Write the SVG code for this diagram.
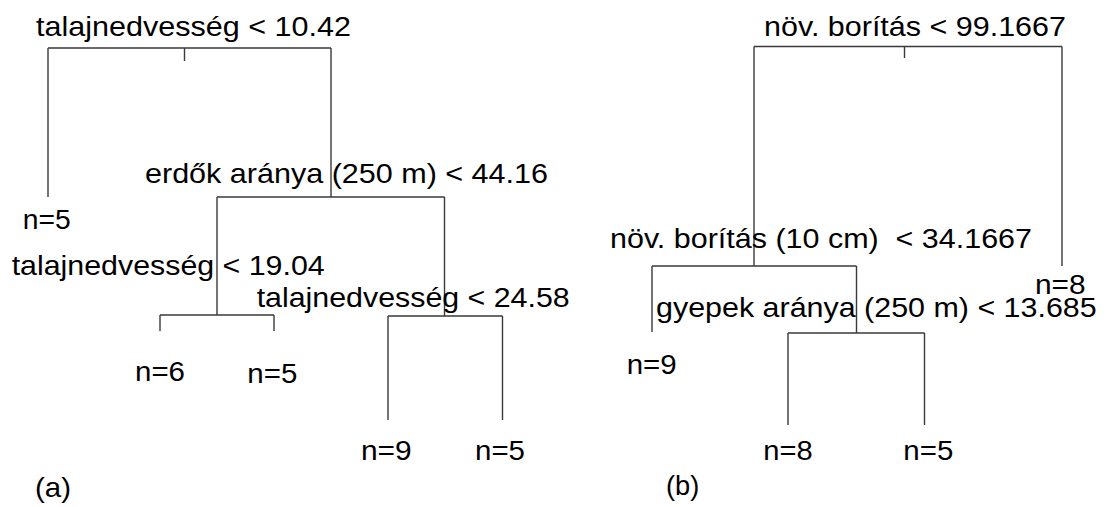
<svg xmlns="http://www.w3.org/2000/svg" width="1107" height="507" viewBox="0 0 1107 507">
<style>
text{font-family:"Liberation Sans",Arial,sans-serif;font-size:27.5px;fill:#000;white-space:pre}
.e{fill:none;stroke:#3a3a3a;stroke-width:1.4}
</style>
<rect width="1107" height="507" fill="#fff"/>
<g id="connectors">
<path class="e" d="M48 48H331M184.5 48V61M48 48V197M331 48V197"/>
<path class="e" d="M217 197H444.5M217 197V315M444.5 197V316"/>
<path class="e" d="M160 315H274M160 315V331M274 315V331"/>
<path class="e" d="M388 316H502.5M388 316V420M502.5 316V420"/>
<path class="e" d="M754 46.5H1062M904.5 46.5V58M754 46.5V266M1062 46.5V266"/>
<path class="e" d="M652 266H856.5M652 266V332M856.5 266V333"/>
<path class="e" d="M788 333H924.5M788 333V425M924.5 333V425"/>
</g>
<g id="a-root"><text x="36" y="36" textLength="315" lengthAdjust="spacingAndGlyphs">talajnedvesség &lt; 10.42</text></g>
<g id="a-leaf1"><text x="22.7" y="229" textLength="48" lengthAdjust="spacingAndGlyphs">n=5</text></g>
<g id="a-node2"><text x="145" y="182.5" textLength="403" lengthAdjust="spacingAndGlyphs">erdők aránya (250 m) &lt; 44.16</text></g>
<g id="a-node3"><text x="11.7" y="275" textLength="313" lengthAdjust="spacingAndGlyphs">talajnedvesség &lt; 19.04</text></g>
<g id="a-node4"><text x="256.7" y="306.5" textLength="313" lengthAdjust="spacingAndGlyphs">talajnedvesség &lt; 24.58</text></g>
<g id="a-leaf2"><text x="135" y="380.5" textLength="50" lengthAdjust="spacingAndGlyphs">n=6</text></g>
<g id="a-leaf3"><text x="247.3" y="383" textLength="50" lengthAdjust="spacingAndGlyphs">n=5</text></g>
<g id="a-leaf4"><text x="361" y="460" textLength="50.7" lengthAdjust="spacingAndGlyphs">n=9</text></g>
<g id="a-leaf5"><text x="475" y="460" textLength="50" lengthAdjust="spacingAndGlyphs">n=5</text></g>
<g id="a-label"><text x="35" y="496.5" textLength="36" lengthAdjust="spacingAndGlyphs">(a)</text></g>
<g id="b-root"><text x="764" y="36" textLength="302" lengthAdjust="spacingAndGlyphs">növ. borítás &lt; 99.1667</text></g>
<g id="b-node2"><text x="610" y="248" textLength="422" lengthAdjust="spacingAndGlyphs">növ. borítás (10 cm)  &lt; 34.1667</text></g>
<g id="b-leaf1"><text x="1035" y="294" textLength="50.7" lengthAdjust="spacingAndGlyphs">n=8</text></g>
<g id="b-node3"><text x="656" y="316.5" textLength="440.7" lengthAdjust="spacingAndGlyphs">gyepek aránya (250 m) &lt; 13.685</text></g>
<g id="b-leaf2"><text x="626.7" y="374" textLength="50" lengthAdjust="spacingAndGlyphs">n=9</text></g>
<g id="b-leaf3"><text x="763.3" y="460" textLength="49.4" lengthAdjust="spacingAndGlyphs">n=8</text></g>
<g id="b-leaf4"><text x="903.3" y="460" textLength="50" lengthAdjust="spacingAndGlyphs">n=5</text></g>
<g id="b-label"><text x="666" y="495" textLength="33.3" lengthAdjust="spacingAndGlyphs">(b)</text></g>
</svg>
